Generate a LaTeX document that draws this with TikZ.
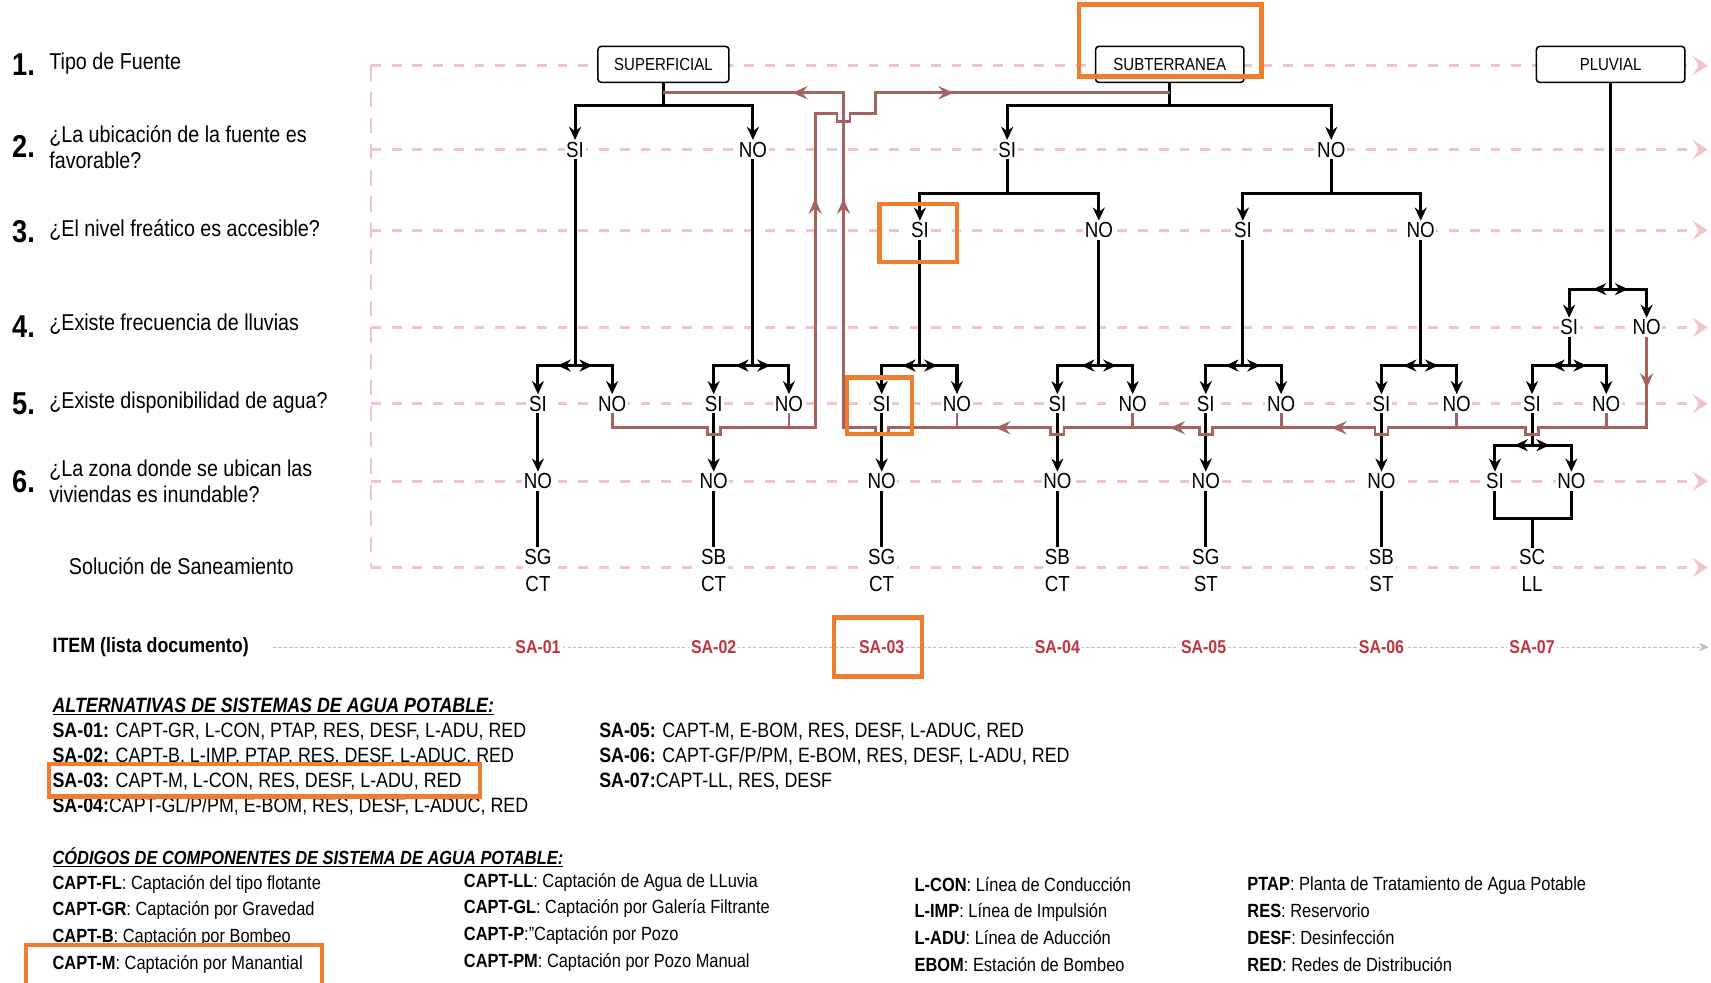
\documentclass[tikz,border=0pt]{standalone}
\usepackage{fontspec}
\setmainfont{Liberation Sans}[FakeStretch=0.86]
\usetikzlibrary{arrows.meta, positioning, calc, decorations.markings}
\definecolor{Naranja}{HTML}{F07D2E}
\definecolor{Flujo}{HTML}{A5635D}
\definecolor{Guia}{HTML}{F3C4C7}
\definecolor{ItemRojo}{HTML}{BE3440}
\definecolor{Punteo}{HTML}{BDBDBD}
\tikzset{
    % Cajas y textos
    fuente/.style={
        rectangle,
        draw=black,
        rounded corners=3pt,
        line width=1.4pt,
        fill=white,
        minimum width=120pt,
        minimum height=33pt,
        font=\fontsize{16}{16}\selectfont
    },
    resp/.style={
        fill=white,
        inner sep=1.5pt,
        font=\fontsize{20}{21}\selectfont
    },
    sol/.style={
        align=center,
        fill=white,
        inner sep=1.5pt,
        font=\fontsize{20}{25}\selectfont
    },
    pregunta/.style={
        anchor=west,
        align=left,
        inner sep=0pt,
        font=\fontsize{21}{24}\selectfont
    },
    numero/.style={
        anchor=west,
        inner sep=0pt,
        font=\bfseries\fontsize{29}{29}\selectfont
    },
    itemsa/.style={
        fill=white,
        inner sep=2pt,
        text=ItemRojo,
        font=\bfseries\fontsize{17}{17}\selectfont
    },
    leyenda/.style={
        anchor=west,
        align=left,
        inner sep=0pt,
        font=\fontsize{19}{23}\selectfont
    },
    codigo/.style={
        anchor=west,
        align=left,
        inner sep=0pt,
        font=\fontsize{17.5}{24.5}\selectfont
    },
    % Lineas y flechas
    rama/.style={
        line width=2.8pt,
        draw=black
    },
    punta/.style={
        -{Stealth[length=12pt,width=11pt]}
    },
    doble/.style={
        postaction={decorate},
        decoration={markings,
            mark=at position 16pt with {\arrow{Stealth[length=12pt,width=11pt]}}}
    },
    flujo/.style={
        line width=2.6pt,
        draw=Flujo
    },
    puntaflujo/.style={
        -{Stealth[length=14pt,width=12pt,inset=5pt]}
    },
    guia/.style={
        draw=Guia,
        line width=2.5pt,
        dash pattern=on 9pt off 10pt,
        -{Stealth[length=14pt,width=18pt,inset=6pt]}
    },
    marca/.style={
        draw=Naranja,
        line width=4pt
    }
}
% bifurcacion con flechas en la barra
\newcommand{\bifurcar}[4]{%
    \draw[rama] (#1) -- (#1 |- 0,#2);
    \draw[rama, doble, punta] (#1 |- 0,#2) -| (#3);
    \draw[rama, doble, punta] (#1 |- 0,#2) -| (#4);
}
% bifurcacion simple
\newcommand{\ramificar}[4]{%
    \draw[rama] (#1) -- (#1 |- 0,#2);
    \draw[rama, punta] (#1 |- 0,#2) -| (#3);
    \draw[rama, punta] (#1 |- 0,#2) -| (#4);
}

\begin{document}
\begin{tikzpicture}[x=1pt, y=-1pt]
    \useasboundingbox (0,0) rectangle (1568,900);
    \fill[white] (0,0) rectangle (1568,900);

    % Guias de cada pregunta
    \draw[draw=Guia, line width=1.2pt, dash pattern=on 14pt off 10pt] (340,60) -- (340,520);
    \draw[guia] (340,60) -- (1565,60);
    \draw[guia] (340,137) -- (1565,137);
    \draw[guia] (340,211) -- (1565,211);
    \draw[guia] (340,300) -- (1565,300);
    \draw[guia] (340,370) -- (1565,370);
    \draw[guia] (340,441) -- (1565,441);
    \draw[guia] (340,520) -- (1565,520);

    % Preguntas
    \node[numero] (n1) at (11,59) {1.};
    \node[pregunta] (p1) at (45,58) {Tipo de Fuente};
    \node[numero] (n2) at (11,134) {2.};
    \node[pregunta] (p2) at (45,135) {¿La ubicación de la fuente es\\favorable?};
    \node[numero] (n3) at (11,212) {3.};
    \node[pregunta] (p3) at (45,211) {¿El nivel freático es accesible?};
    \node[numero] (n4) at (11,299) {4.};
    \node[pregunta] (p4) at (45,297) {¿Existe frecuencia de lluvias};
    \node[numero] (n5) at (11,370) {5.};
    \node[pregunta] (p5) at (45,369) {¿Existe disponibilidad de agua?};
    \node[numero] (n6) at (11,441) {6.};
    \node[pregunta] (p6) at (45,441) {¿La zona donde se ubican las\\viviendas es inundable?};
    \node[pregunta] (p7) at (63,519) {Solución de Saneamiento};

    % Tipo de fuente
    \node[fuente] (s1) at (608,59) {SUPERFICIAL};
    \node[fuente, minimum width=136pt] (s2) at (1072,59) {SUBTERRANEA};
    \node[fuente, minimum width=136pt] (s3) at (1476,59) {PLUVIAL};

    % Respuestas 2 a 4
    \node[resp] (sup2si) at (527,137) {SI};
    \node[resp] (sup2no) at (690,137) {NO};
    \node[resp] (sub2si) at (923,137) {SI};
    \node[resp] (sub2no) at (1220,137) {NO};
    \node[resp] (sub3asi) at (843,211) {SI};
    \node[resp] (sub3ano) at (1007,211) {NO};
    \node[resp] (sub3bsi) at (1139,211) {SI};
    \node[resp] (sub3bno) at (1302,211) {NO};
    \node[resp] (plu4si) at (1438,300) {SI};
    \node[resp] (plu4no) at (1509,300) {NO};

    % Respuestas 5
    \node[resp] (c1si) at (493,370) {SI};
    \node[resp] (c1no) at (561,370) {NO};
    \node[resp] (c2si) at (654,370) {SI};
    \node[resp] (c2no) at (723,370) {NO};
    \node[resp] (c3si) at (808,370) {SI};
    \node[resp] (c3no) at (877,370) {NO};
    \node[resp] (c4si) at (969,370) {SI};
    \node[resp] (c4no) at (1038,370) {NO};
    \node[resp] (c5si) at (1105,370) {SI};
    \node[resp] (c5no) at (1174,370) {NO};
    \node[resp] (c6si) at (1266,370) {SI};
    \node[resp] (c6no) at (1335,370) {NO};
    \node[resp] (c7si) at (1404,370) {SI};
    \node[resp] (c7no) at (1472,370) {NO};

    % Respuestas 6
    \node[resp] (c1n) at (493,441) {NO};
    \node[resp] (c2n) at (654,441) {NO};
    \node[resp] (c3n) at (808,441) {NO};
    \node[resp] (c4n) at (969,441) {NO};
    \node[resp] (c5n) at (1105,441) {NO};
    \node[resp] (c6n) at (1266,441) {NO};
    \node[resp] (c7a) at (1370,441) {SI};
    \node[resp] (c7b) at (1440,441) {NO};

    % Soluciones
    \node[sol] (sol1) at (493,523) {SG\\CT};
    \node[sol] (sol2) at (654,523) {SB\\CT};
    \node[sol] (sol3) at (808,523) {SG\\CT};
    \node[sol] (sol4) at (969,523) {SB\\CT};
    \node[sol] (sol5) at (1105,523) {SG\\ST};
    \node[sol] (sol6) at (1266,523) {SB\\ST};
    \node[sol] (sol7) at (1404,523) {SC\\LL};

    % Arbol
    \ramificar{s1}{97}{sup2si}{sup2no}
    \ramificar{s2}{97}{sub2si}{sub2no}
    \ramificar{sub2si}{177}{sub3asi}{sub3ano}
    \ramificar{sub2no}{177}{sub3bsi}{sub3bno}
    \bifurcar{s3}{265}{plu4si}{plu4no}
    \bifurcar{sup2si}{335}{c1si}{c1no}
    \bifurcar{sup2no}{335}{c2si}{c2no}
    \bifurcar{sub3asi}{335}{c3si}{c3no}
    \bifurcar{sub3ano}{335}{c4si}{c4no}
    \bifurcar{sub3bsi}{335}{c5si}{c5no}
    \bifurcar{sub3bno}{335}{c6si}{c6no}
    \bifurcar{plu4si}{335}{c7si}{c7no}
    \bifurcar{c7si}{408}{c7a}{c7b}

    \draw[rama, punta] (c1si) -- (c1n);
    \draw[rama, punta] (c2si) -- (c2n);
    \draw[rama, punta] (c3si) -- (c3n);
    \draw[rama, punta] (c4si) -- (c4n);
    \draw[rama, punta] (c5si) -- (c5n);
    \draw[rama, punta] (c6si) -- (c6n);
    \draw[rama] (c1n) -- (sol1);
    \draw[rama] (c2n) -- (sol2);
    \draw[rama] (c3n) -- (sol3);
    \draw[rama] (c4n) -- (sol4);
    \draw[rama] (c5n) -- (sol5);
    \draw[rama] (c6n) -- (sol6);
    \draw[rama] (c7a) |- (c7b |- 0,475) -- (c7b);
    \draw[rama] (sol7 |- 0,475) -- (sol7);

    % Retorno cuando no hay solucion
    \draw[flujo] (c1no) -- (c1no |- 0,392) -- (648,392) -- (648,398) -- (660,398) -- (660,392)
        -- (747,392) -- (747,104) -- (767,104) -- (767,111) -- (779,111) -- (779,104)
        -- (802,104) -- (802,85) -- (s2 |- 0,85);
    \draw[flujo] (plu4no) -- (plu4no |- 0,392) -- (1410,392) -- (1410,398) -- (1398,398) -- (1398,392)
        -- (1272,392) -- (1272,398) -- (1260,398) -- (1260,392)
        -- (1111,392) -- (1111,398) -- (1099,398) -- (1099,392)
        -- (975,392) -- (975,398) -- (963,398) -- (963,392)
        -- (814,392) -- (814,398) -- (802,398) -- (802,392)
        -- (773,392) -- (773,85) -- (s1 |- 0,85);
    \draw[flujo] (c2no) -- (c2no |- 0,392);
    \draw[flujo] (c3no) -- (c3no |- 0,392);
    \draw[flujo] (c4no) -- (c4no |- 0,392);
    \draw[flujo] (c5no) -- (c5no |- 0,392);
    \draw[flujo] (c6no) -- (c6no |- 0,392);
    \draw[flujo] (c7no) -- (c7no |- 0,392);
    \draw[flujo, puntaflujo] (747,196) -- (747,182);
    \draw[flujo, puntaflujo] (773,196) -- (773,182);
    \draw[flujo, puntaflujo] (742,85) -- (726,85);
    \draw[flujo, puntaflujo] (858,85) -- (874,85);
    \draw[flujo, puntaflujo] (928,392) -- (912,392);
    \draw[flujo, puntaflujo] (1088,392) -- (1072,392);
    \draw[flujo, puntaflujo] (1236,392) -- (1220,392);
    \draw[flujo, puntaflujo] (1509,340) -- (1509,356);

    % Items
    \node[anchor=west, inner sep=0pt, font=\bfseries\fontsize{19}{19}\selectfont] (item) at (48,593) {ITEM (lista documento)};
    \coordinate (finitem) at (1566,593);
    \draw[Punteo, line width=0.9pt, dash pattern=on 3pt off 2pt, -{Stealth[length=9pt,width=8pt,inset=3pt]}]
        ([xshift=22pt]item.east) -- (finitem);
    \node[itemsa] (sa1) at (493,593) {SA-01};
    \node[itemsa] (sa2) at (654,593) {SA-02};
    \node[itemsa] (sa3) at (808,593) {SA-03};
    \node[itemsa] (sa4) at (969,593) {SA-04};
    \node[itemsa] (sa5) at (1103,593) {SA-05};
    \node[itemsa] (sa6) at (1266,593) {SA-06};
    \node[itemsa] (sa7) at (1404,593) {SA-07};

    % Alternativas
    \node[leyenda] (alt) at (48,647) {\underline{\textbf{\textit{ALTERNATIVAS DE SISTEMAS DE AGUA POTABLE:}}}};
    \node[leyenda] (altizq) at (48,704.5) {\textbf{SA-01:} CAPT-GR, L-CON, PTAP, RES, DESF, L-ADU, RED\\
        \textbf{SA-02:} CAPT-B, L-IMP, PTAP, RES, DESF, L-ADUC, RED\\
        \textbf{SA-03:} CAPT-M, L-CON, RES, DESF, L-ADU, RED\\
        \textbf{SA-04:}CAPT-GL/P/PM, E-BOM, RES, DESF, L-ADUC, RED};
    \node[leyenda] (altder) at (549,693) {\textbf{SA-05:} CAPT-M, E-BOM, RES, DESF, L-ADUC, RED\\
        \textbf{SA-06:} CAPT-GF/P/PM, E-BOM, RES, DESF, L-ADU, RED\\
        \textbf{SA-07:}CAPT-LL, RES, DESF};

    % Codigos
    \node[leyenda, font=\fontsize{17.5}{20}\selectfont] (cod) at (48,786) {\underline{\textbf{\textit{CÓDIGOS DE COMPONENTES DE SISTEMA DE AGUA POTABLE:}}}};
    \node[codigo] (cod1) at (48,847) {\textbf{CAPT-FL}: Captación del tipo flotante\\
        \textbf{CAPT-GR}: Captación por Gravedad\\
        \textbf{CAPT-B}: Captación por Bombeo\\
        \textbf{CAPT-M}: Captación por Manantial};
    \node[codigo] (cod2) at (425,845) {\textbf{CAPT-LL}: Captación de Agua de LLuvia\\
        \textbf{CAPT-GL}: Captación por Galería Filtrante\\
        \textbf{CAPT-P}:"Captación por Pozo\\
        \textbf{CAPT-PM}: Captación por Pozo Manual};
    \node[codigo] (cod3) at (838,847) {\textbf{L-CON}: Línea de Conducción\\
        \textbf{L-IMP}: Línea de Impulsión\\
        \textbf{L-ADU}: Línea de Aducción\\
        \textbf{EBOM}: Estación de Bombeo};
    \node[codigo] (cod4) at (1143,847) {\textbf{PTAP}: Planta de Tratamiento de Agua Potable\\
        \textbf{RES}: Reservorio\\
        \textbf{DESF}: Desinfección\\
        \textbf{RED}: Redes de Distribución};

    % Resaltados
    \draw[marca] (989,4) rectangle (1156,70);
    \draw[marca] (806,187) rectangle (877,240);
    \draw[marca] (776,346) rectangle (836,398);
    \draw[marca] (764,566) rectangle (845,620);
    \draw[marca] (45,700) rectangle (440,730);
    \draw[marca] (24,866) rectangle (295,906);
\end{tikzpicture}
\end{document}
